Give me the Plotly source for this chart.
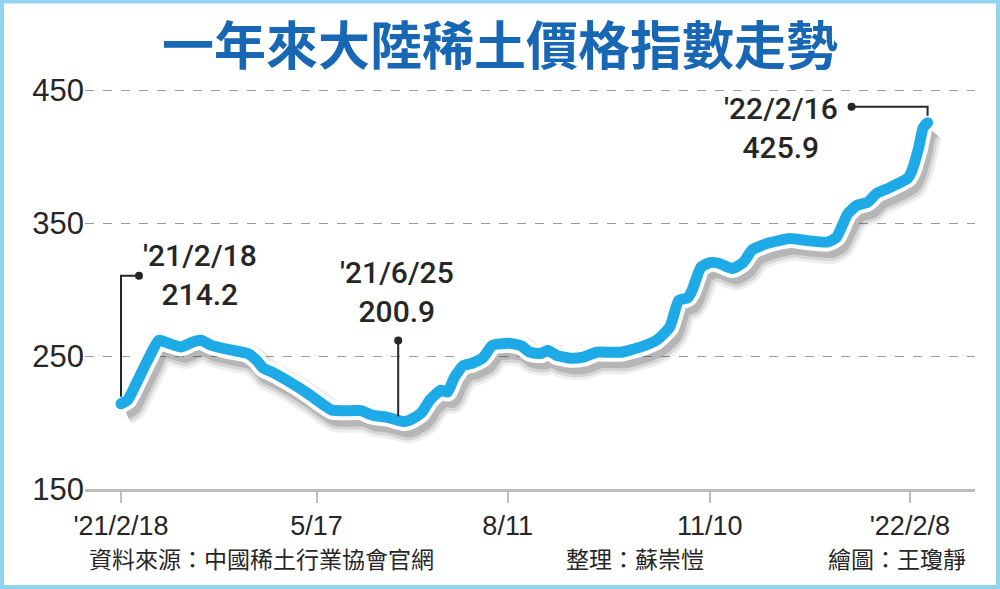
import pandas as pd
import plotly.graph_objects as go

# rare-earth price index
dates = [
    "2021-02-18", "2021-02-21", "2021-02-25", "2021-03-02", "2021-03-07", "2021-03-11",
    "2021-03-17", "2021-03-22", "2021-03-26", "2021-03-31", "2021-04-09", "2021-04-16",
    "2021-04-20", "2021-04-23", "2021-04-27", "2021-05-05", "2021-05-13", "2021-05-19",
    "2021-05-24", "2021-06-01", "2021-06-06", "2021-06-11", "2021-06-18", "2021-06-25",
    "2021-06-28", "2021-07-03", "2021-07-07", "2021-07-12", "2021-07-15", "2021-07-18",
    "2021-07-22", "2021-07-26", "2021-07-31", "2021-08-04", "2021-08-11", "2021-08-17",
    "2021-08-21", "2021-08-26", "2021-08-29", "2021-09-02", "2021-09-08", "2021-09-14",
    "2021-09-20", "2021-09-26", "2021-10-01", "2021-10-10", "2021-10-17", "2021-10-23",
    "2021-10-27", "2021-10-31", "2021-11-02", "2021-11-06", "2021-11-10", "2021-11-14",
    "2021-11-20", "2021-11-25", "2021-11-29", "2021-12-06", "2021-12-16", "2021-12-24",
    "2022-01-02", "2022-01-06", "2022-01-11", "2022-01-15", "2022-01-20", "2022-01-24",
    "2022-01-30", "2022-02-07", "2022-02-09", "2022-02-12", "2022-02-14", "2022-02-16",
]
values = [
    214.2, 217, 230, 247, 262, 260,
    257, 260.5, 262, 258, 254.5, 252,
    247, 241, 238, 230.5, 222, 214.7,
    209.4, 209, 209, 205.6, 204, 200.9,
    201.9, 207, 217, 224.4, 223, 234,
    243, 244.7, 249, 258, 259.8, 258,
    253, 252, 254.5, 250.7, 248.5, 249.3,
    253, 253, 253, 257, 262, 272,
    292, 294, 299.5, 317, 320.5, 320,
    316, 320.5, 330, 335, 338.7, 337,
    336, 339.5, 357, 363.5, 366, 372.5,
    377, 384, 390, 407, 422, 425.9,
]

tick_dates = ["2021-02-18", "2021-05-17", "2021-08-11", "2021-11-10", "2022-02-08"]
tick_text = ["'21/2/18", "5/17", "8/11", "11/10", "'22/2/8"]
y_ticks = [150, 250, 350, 450]

callout_dates = ["2021-02-18", "2021-06-25", "2022-02-16"]
callout_values = [214.2, 200.9, 425.9]
callout_labels = ["'21/2/18", "'21/6/25", "'22/2/16"]

title = "一年來大陸稀土價格指數走勢"
footer = ["資料來源：中國稀土行業協會官網", "整理：蘇崇愷", "繪圖：王瓊靜"]

W, H = 1000, 589
BLUE = "#1eaae6"
INK = "#262626"
NUM_FONT = "Liberation Sans"
LABEL_FONT = "Roboto"
CJK_FONT = "Noto Sans CJK TC"

# 150 sits at y=489, 450 at y=91; a little headroom so the top gridline shows
px_per_unit = (489 - 91) / 300
y_range = [150, 455]
L, R, B = 85, 25, H - 489
T = 91 - (y_range[1] - 450) * px_per_unit
plot_w = W - L - R
plot_h = H - T - B

# x range: '21/2/18 sits 36px right of the plot's left edge, 2.222 px per day
start = pd.Timestamp("2021-02-18")
days_per_px = 1 / 2.222
x_range = [start - pd.Timedelta(days=36 * days_per_px),
           start + pd.Timedelta(days=(plot_w - 36) * days_per_px)]

# drop shadow drawn on a hidden pair of axes, nudged right / down
sh_dx, sh_dy = 4, 7
shift_t = pd.Timedelta(days=sh_dx * days_per_px)
shift_v = sh_dy / px_per_unit
shadow_x_range = [x_range[0] - shift_t, x_range[1] - shift_t]
shadow_y_range = [y_range[0] + shift_v, y_range[1] + shift_v]

fig = go.Figure()

for w, a in [(30, 0.08), (24, 0.12), (18, 0.18)]:
    fig.add_trace(go.Scatter(
        x=dates, y=values, mode="lines", xaxis="x", yaxis="y",
        line=dict(color=f"rgba(40,40,40,{a})", width=w, shape="spline", smoothing=0.5),
        hoverinfo="skip", showlegend=False,
    ))

fig.add_trace(go.Scatter(
    x=dates, y=values, mode="lines", xaxis="x2", yaxis="y2",
    line=dict(color="white", width=19, shape="spline", smoothing=0.5),
    hoverinfo="skip", showlegend=False,
))
fig.add_trace(go.Scatter(
    x=[dates[0], dates[-1]], y=[values[0], values[-1]], mode="markers",
    xaxis="x2", yaxis="y2", marker=dict(color="white", size=19),
    hoverinfo="skip", showlegend=False,
))
fig.add_trace(go.Scatter(
    x=dates, y=values, mode="lines", xaxis="x2", yaxis="y2",
    line=dict(color=BLUE, width=11, shape="spline", smoothing=0.5),
    showlegend=False,
))
fig.add_trace(go.Scatter(
    x=[dates[0], dates[-1]], y=[values[0], values[-1]], mode="markers",
    xaxis="x2", yaxis="y2", marker=dict(color=BLUE, size=11),
    hoverinfo="skip", showlegend=False,
))

# callouts: text offset and connector path in pixels relative to the point
callout_text_shift = [(79, 129), (-6, 129), (-147, -5)]
callout_paths = ["M0,7 V128 H18", "M-5,5 V81", "M0,7 V16 H-76"]
callout_dots = [(18, 128), (-5, 81), (-76, 16)]

shapes = []
annotations = []
for d, v, lab, (dx, dy), path, (cx, cy) in zip(
        callout_dates, callout_values, callout_labels,
        callout_text_shift, callout_paths, callout_dots):
    annotations.append(dict(
        x=d, y=v, xref="x2", yref="y2", showarrow=False,
        text=f"{lab}<br>{v}", xshift=dx, yshift=dy, align="center",
        font=dict(family=LABEL_FONT, size=30, color=INK, weight=500),
    ))
    shapes.append(dict(
        type="path", xref="x2", yref="y2", xsizemode="pixel", ysizemode="pixel",
        xanchor=d, yanchor=v, path=path, line=dict(color=INK, width=2),
    ))
    shapes.append(dict(
        type="circle", xref="x2", yref="y2", xsizemode="pixel", ysizemode="pixel",
        xanchor=d, yanchor=v, x0=cx - 4, x1=cx + 4, y0=cy - 4, y1=cy + 4,
        fillcolor=INK, line=dict(width=0),
    ))

# footer credits
footer_x = [87, 564, 826]
for txt, px in zip(footer, footer_x):
    annotations.append(dict(
        x=(px - L) / plot_w, y=(H - B - 558) / plot_h, xref="paper", yref="paper",
        xanchor="left", yanchor="middle", showarrow=False, text=txt,
        font=dict(family=CJK_FONT, size=23, color=INK),
    ))

# light blue frame around the whole graphic
shapes.append(dict(
    type="rect", xref="paper", yref="paper",
    x0=-L / plot_w, x1=1 + R / plot_w, y0=-B / plot_h, y1=1 + T / plot_h,
    line=dict(color="#8fd4f1", width=8), fillcolor="rgba(0,0,0,0)", layer="above",
))

fig.update_layout(
    width=W, height=H,
    margin=dict(l=L, r=R, t=T, b=B, autoexpand=False),
    paper_bgcolor="white", plot_bgcolor="white",
    title=dict(
        text=title, x=0.5, xanchor="center", y=1 - 47 / H, yanchor="middle",
        font=dict(family=CJK_FONT, size=52, color="#1767b4", weight="bold"),
    ),
    xaxis=dict(range=shadow_x_range, type="date", visible=False),
    yaxis=dict(range=shadow_y_range, visible=False),
    xaxis2=dict(
        range=x_range, type="date", overlaying="x", anchor="y2", automargin=False,
        tickvals=tick_dates, ticktext=tick_text, ticks="outside", ticklen=11,
        tickwidth=2, tickcolor="#bdbdbd", showline=True, linecolor="#bdbdbd",
        linewidth=3, showgrid=False, zeroline=False,
        tickfont=dict(family=NUM_FONT, size=27, color=INK),
    ),
    yaxis2=dict(
        range=y_range, overlaying="y", anchor="x2", side="left", automargin=False,
        tickvals=y_ticks, ticks="", showline=False, zeroline=False,
        showgrid=True, gridcolor="#9a9a9a", gridwidth=1, griddash="dash",
        tickfont=dict(family=NUM_FONT, size=31, color=INK),
    ),
    shapes=shapes,
    annotations=annotations,
    showlegend=False,
)

# page default margin would push the graphic 8px in; drop it
fig.write_html("out.html", config={"displayModeBar": False},
               post_script="document.body.style.margin='0';")
